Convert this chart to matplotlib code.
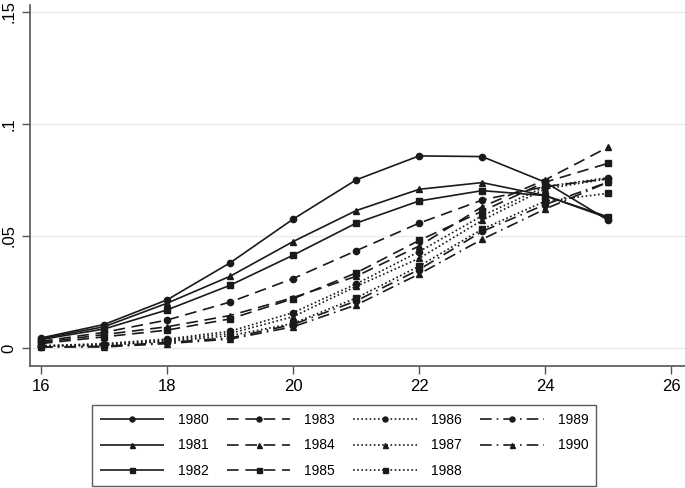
import matplotlib
matplotlib.use("Agg")
import matplotlib.pyplot as plt
from matplotlib.ticker import FixedLocator

plt.rcParams['font.family'] = ['Liberation Sans', 'DejaVu Sans']

ages = [16, 17, 18, 19, 20, 21, 22, 23, 24, 25]
cohorts = ["1980", "1981", "1982", "1983", "1984", "1985",
           "1986", "1987", "1988", "1989", "1990"]
s1980 = [0.0045, 0.0105, 0.0215, 0.038, 0.0575, 0.075, 0.0857, 0.0854, 0.074, 0.057]
s1981 = [0.0042, 0.0095, 0.020, 0.032, 0.0475, 0.0613, 0.0708, 0.0738, 0.068, 0.058]
s1982 = [0.0038, 0.0085, 0.017, 0.028, 0.0414, 0.0557, 0.0656, 0.0702, 0.068, 0.0585]
s1983 = [0.003, 0.007, 0.0125, 0.0205, 0.031, 0.0434, 0.0557, 0.066, 0.072, 0.0755]
s1984 = [0.0025, 0.006, 0.0095, 0.0145, 0.0225, 0.032, 0.0455, 0.063, 0.075, 0.0896]
s1985 = [0.002, 0.005, 0.008, 0.013, 0.022, 0.0335, 0.048, 0.061, 0.074, 0.0824]
s1986 = [0.001, 0.002, 0.004, 0.0075, 0.0158, 0.0286, 0.043, 0.059, 0.072, 0.076]
s1987 = [0.001, 0.0015, 0.0035, 0.0065, 0.014, 0.0275, 0.040, 0.057, 0.071, 0.0755]
s1988 = [0.0008, 0.0012, 0.003, 0.0055, 0.011, 0.0223, 0.0365, 0.053, 0.0655, 0.069]
s1989 = [0.0005, 0.0008, 0.0025, 0.0045, 0.0105, 0.021, 0.035, 0.052, 0.064, 0.074]
s1990 = [0.0005, 0.0005, 0.002, 0.004, 0.0095, 0.0192, 0.033, 0.0485, 0.062, 0.074]
series = [s1980, s1981, s1982, s1983, s1984, s1985, s1986, s1987, s1988, s1989, s1990]

xticks = [16, 18, 20, 22, 24, 26]
yticks = [0, 0.05, 0.1, 0.15]
ytick_labels = ["0", ".05", ".1", ".15"]

styles = [(0, ()), (0, ()), (0, ()),
          (0, (7, 4)), (0, (7, 4)), (0, (7, 4)),
          (0, (1, 1.5)), (0, (1, 1.5)), (0, (1, 1.5)),
          (0, (7, 3, 1, 3)), (0, (7, 3, 1, 3))]
markers = ['o', '^', 's', 'o', '^', 's', 'o', '^', 's', 'o', '^']

fig = plt.figure(figsize=(6.85, 4.88), dpi=100)
ax = fig.add_axes([30/685, 1-366/488, 655/685, 361/488])

col = '#1a1a1a'
for name, vals, ls, mk in zip(cohorts, series, styles, markers):
    ax.plot(ages, vals, linestyle=ls, marker=mk, color=col, linewidth=1.2,
            markersize=4.5, label=name)

ax.set_xlim(15.825, 26.22)
ax.set_ylim(-0.008, 0.153)
ax.set_xticks(xticks)
ax.yaxis.set_major_locator(FixedLocator(yticks))
ax.set_yticklabels(ytick_labels, rotation=90, va='center')
ax.tick_params(axis='both', labelsize=12, color='#555555', length=6, width=1)
ax.tick_params(axis='y', pad=4)
ax.grid(axis='y', color='#eaeaea', linewidth=1)
ax.set_axisbelow(True)
for s in ['top', 'right']:
    ax.spines[s].set_visible(False)
for s in ['left', 'bottom']:
    ax.spines[s].set_color('#555555')
    ax.spines[s].set_linewidth(1.2)

leg = fig.legend(loc='upper center', bbox_to_anchor=(344/685, 1-398/488), ncol=4,
                 fontsize=10, handlelength=4.6, handletextpad=1.0, columnspacing=1.3,
                 labelspacing=0.85, frameon=True, fancybox=False, borderpad=0.55,
                 markerscale=0.8)
leg.get_frame().set_edgecolor('#333333')
leg.get_frame().set_linewidth(1.0)

fig.savefig('out.png', dpi=100)
